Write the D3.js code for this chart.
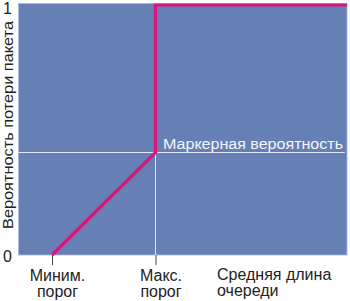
<!DOCTYPE html>
<html>
<head>
<meta charset="utf-8">
<script src="https://cdn.jsdelivr.net/npm/d3@7"></script>
<style>
  body { margin: 0; background: #fff; }
  text { font-family: "Liberation Sans", Arial, sans-serif; fill: #222; }
</style>
</head>
<body>
<div id="chart"></div>
<script>
// values
var probTicks = [0, 1];
var probTickLabels = ["0", "1"];
var thresholds = [10.2, 41.7];          // min / max threshold on the queue axis
var thresholdLabels = [["Миним.", "порог"], ["Макс.", "порог"]];
var markProb = 0.41;
var curveQueue = [10.2, 41.7, 41.7, 100];
var curveProb = [0, 0.41, 1, 1];
var xTitle = ["Средняя длина", "очереди"];
var yTitle = "Вероятность потери пакета";
var markLabel = "Маркерная вероятность";

var width = 350, height = 301;

var svg = d3.select("#chart")
    .append("svg")
    .attr("width", width)
    .attr("height", height)

var x = d3.scaleLinear().domain([0, 100]).range([18.5, 347]);
var y = d3.scaleLinear().domain([0, 1]).range([255, 5]);

// plot background
svg.append("rect")
    .attr("x", x(0))
    .attr("y", y(1) - 1.5)
    .attr("width", x(100) - x(0))
    .attr("height", y(0) - y(1) + 1.5)
    .attr("fill", "#6680b6")
    .attr("stroke", "#a8b8da")
    .attr("stroke-width", 0.8);

// white guide lines
svg.append("line")
    .attr("x1", x(0)).attr("x2", x(99.3))
    .attr("y1", y(markProb)).attr("y2", y(markProb))
    .attr("stroke", "#e4e9f4").attr("stroke-width", 1);

svg.append("line")
    .attr("x1", x(thresholds[1])).attr("x2", x(thresholds[1]))
    .attr("y1", y(markProb)).attr("y2", y(0))
    .attr("stroke", "#e4e9f4").attr("stroke-width", 1);

// tick marks below the plot
var xAxis = d3.axisBottom(x)
    .tickValues(thresholds)
    .tickSize(10)
    .tickFormat("");

var gx = svg.append("g")
    .attr("transform", "translate(0," + y(0) + ")")
    .call(xAxis);
gx.select(".domain").remove();
gx.selectAll(".tick line").attr("stroke", "#444");

// drop curve
var pts = curveQueue.map(function(q, i) { return [q, curveProb[i]]; });
svg.append("path")
    .datum(pts)
    .attr("d", d3.line().x(function(d) { return x(d[0]); }).y(function(d) { return y(d[1]); }))
    .attr("fill", "none")
    .attr("stroke", "#dc157c")
    .attr("stroke-width", 3.2)
    .attr("stroke-linejoin", "miter");

// y tick labels
svg.selectAll(".ylab")
    .data(probTicks)
    .enter()
    .append("text")
    .attr("class", "ylab")
    .attr("x", 3)
    .attr("y", function(d) { return y(d) + (d === 1 ? 9 : 7); })
    .text(function(d, i) { return probTickLabels[i]; })
    .attr("font-size", "16px");

// y title
svg.append("text")
    .attr("transform", "translate(13," + 125 + ") rotate(-90)")
    .attr("text-anchor", "middle")
    .attr("font-size", "14.5px")
    .attr("textLength", 208)
    .attr("lengthAdjust", "spacingAndGlyphs")
    .text(yTitle);

// threshold labels
thresholds.forEach(function(t, i) {
    var lab = svg.append("text")
        .attr("text-anchor", "middle")
        .attr("font-size", "16px");
    thresholdLabels[i].forEach(function(s, j) {
        lab.append("tspan")
            .attr("x", x(t) + 5.5)
            .attr("y", 281 + j * 16)
            .text(s);
    });
});

// x title
var xt = svg.append("text")
    .attr("font-size", "16px");
xTitle.forEach(function(s, j) {
    xt.append("tspan")
        .attr("x", 217)
        .attr("y", 280 + j * 16)
        .text(s);
});

// marking probability label
svg.append("text")
    .attr("x", 163)
    .attr("y", y(markProb) - 4)
    .attr("font-size", "15.5px")
    .attr("textLength", 180)
    .attr("lengthAdjust", "spacingAndGlyphs")
    .style("fill", "#f4f6fb")
    .text(markLabel);
</script>
</body>
</html>
